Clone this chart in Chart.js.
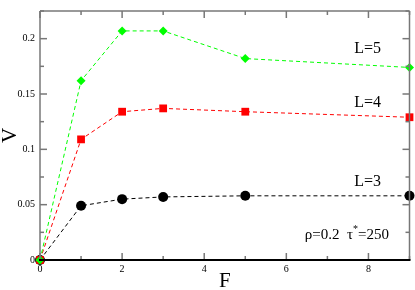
<!DOCTYPE html>
<html>
<head>
<meta charset="utf-8">
<script src="https://cdn.jsdelivr.net/npm/chart.js@4.4.1/dist/chart.umd.min.js"></script>
<style>
  html, body { margin: 0; padding: 0; background: #fff; }
  #wrap { width: 415px; height: 290px; }
</style>
</head>
<body>
<div id="wrap"><canvas id="chart"></canvas></div>
<script>
// data
const forceValues = [0, 1, 2, 3, 5, 9];
const velocityL5 = [0, 0.162, 0.207, 0.207, 0.182, 0.174];
const velocityL4 = [0, 0.109, 0.134, 0.137, 0.134, 0.129];
const velocityL3 = [0, 0.049, 0.055, 0.057, 0.058, 0.058];
const seriesLabels = ['L=5', 'L=4', 'L=3'];
const xTickLabels = ['0', '2', '4', '6', '8'];
const yTickLabels = ['0', '0.05', '0.1', '0.15', '0.2'];

const serif = 'Liberation Serif';

function toPoints(values) {
    return forceValues.map((f, i) => ({ x: f, y: values[i] }));
}

function series(label, values, color, shape, radius) {
    return {
        label: label,
        data: toPoints(values),
        showLine: true,
        borderColor: color,
        backgroundColor: color,
        borderWidth: 1,
        borderDash: [4, 3],
        pointStyle: shape,
        pointRadius: radius,
        pointBorderWidth: 0,
        clip: false,
    };
}

// inward ticks on all four sides plus the frame
const frameTicks = {
    id: 'frameTicks',
    afterDraw(chart) {
        const { ctx, chartArea: a, scales: { x, y } } = chart;
        ctx.save();
        ctx.strokeStyle = '#777';
        ctx.lineWidth = 1.5;
        const seg = (x1, y1, x2, y2) => {
            ctx.beginPath(); ctx.moveTo(x1, y1); ctx.lineTo(x2, y2); ctx.stroke();
        };
        x.ticks.forEach(t => {
            const px = x.getPixelForValue(t.value);
            const len = t.label ? 7 : 4;
            seg(px, a.bottom, px, a.bottom - len);
            seg(px, a.top, px, a.top + len);
        });
        y.ticks.forEach(t => {
            const py = y.getPixelForValue(t.value);
            const len = t.label ? 7 : 4;
            seg(a.left, py, a.left + len, py);
            seg(a.right, py, a.right - len, py);
        });
        seg(a.left, a.bottom, a.left, a.top);
        seg(a.left, a.top, a.right, a.top);
        seg(a.right, a.top, a.right, a.bottom);
        ctx.strokeStyle = '#000';
        ctx.lineWidth = 2;
        seg(a.left - 1, a.bottom, a.right + 1, a.bottom);
        ctx.restore();
    }
};

// curve labels and the parameter note
const notes = {
    id: 'notes',
    afterDraw(chart) {
        const { ctx, scales: { x, y } } = chart;
        ctx.save();
        ctx.fillStyle = '#000';
        ctx.font = '16px "' + serif + '"';
        ctx.textAlign = 'center';
        ctx.textBaseline = 'middle';
        const spots = [[7.98, 0.191], [7.98, 0.142], [7.98, 0.0705]];
        seriesLabels.forEach((s, i) => {
            ctx.fillText(s, x.getPixelForValue(spots[i][0]), y.getPixelForValue(spots[i][1]));
        });
        // ρ=0.2  τ*=250
        ctx.textAlign = 'left';
        ctx.font = '15px "' + serif + '"';
        let px = x.getPixelForValue(6.45);
        const py = y.getPixelForValue(0.0225);
        const part1 = 'ρ=0.2  τ';
        ctx.fillText(part1, px, py);
        px += ctx.measureText(part1).width;
        ctx.font = '10px "' + serif + '"';
        ctx.fillText('*', px, py - 6);
        px += ctx.measureText('*').width;
        ctx.font = '15px "' + serif + '"';
        ctx.fillText('=250', px, py);
        ctx.restore();
    }
};

new Chart(document.getElementById('chart'), {
    type: 'scatter',
    data: {
        datasets: [
            series(seriesLabels[0], velocityL5, '#00ff00', 'rectRot', 4.5),
            series(seriesLabels[1], velocityL4, '#ff0000', 'rect', 5.5),
            series(seriesLabels[2], velocityL3, '#000000', 'circle', 5),
        ],
    },
    options: {
        responsive: true,
        maintainAspectRatio: false,
        animation: false,
        layout: { padding: { top: 1, right: 5, left: 0, bottom: 0 } },
        plugins: { legend: { display: false }, tooltip: { enabled: false } },
        scales: {
            x: {
                type: 'linear',
                min: 0,
                max: 9,
                grid: { display: false, drawTicks: false, tickLength: 0 },
                border: { display: false },
                ticks: {
                    stepSize: 1,
                    autoSkip: false,
                    maxRotation: 0,
                    padding: 4,
                    color: '#000',
                    font: { family: serif, size: 10, lineHeight: 1 },
                    callback: (v) => {
                        const s = String(+v.toFixed(3));
                        return xTickLabels.includes(s) ? s : '';
                    },
                },
                title: {
                    display: true,
                    text: 'F',
                    color: '#000',
                    font: { family: serif, size: 21, lineHeight: 1 },
                    padding: { top: 0, bottom: -2 },
                },
                afterFit: (scale) => { scale.height = 30; },
            },
            y: {
                min: 0,
                max: 0.225,
                grid: { display: false, drawTicks: false, tickLength: 0 },
                border: { display: false },
                ticks: {
                    stepSize: 0.025,
                    autoSkip: false,
                    padding: 5,
                    color: '#000',
                    font: { family: serif, size: 10 },
                    callback: (v) => {
                        const s = String(+v.toFixed(3));
                        return yTickLabels.includes(s) ? s : '';
                    },
                },
                title: {
                    display: true,
                    text: 'V',
                    color: '#000',
                    font: { family: serif, size: 21, lineHeight: 1 },
                    padding: { top: 0, bottom: 0 },
                },
                afterFit: (scale) => { scale.width = 40; },
            },
        },
    },
    plugins: [frameTicks, notes],
});
</script>
</body>
</html>
